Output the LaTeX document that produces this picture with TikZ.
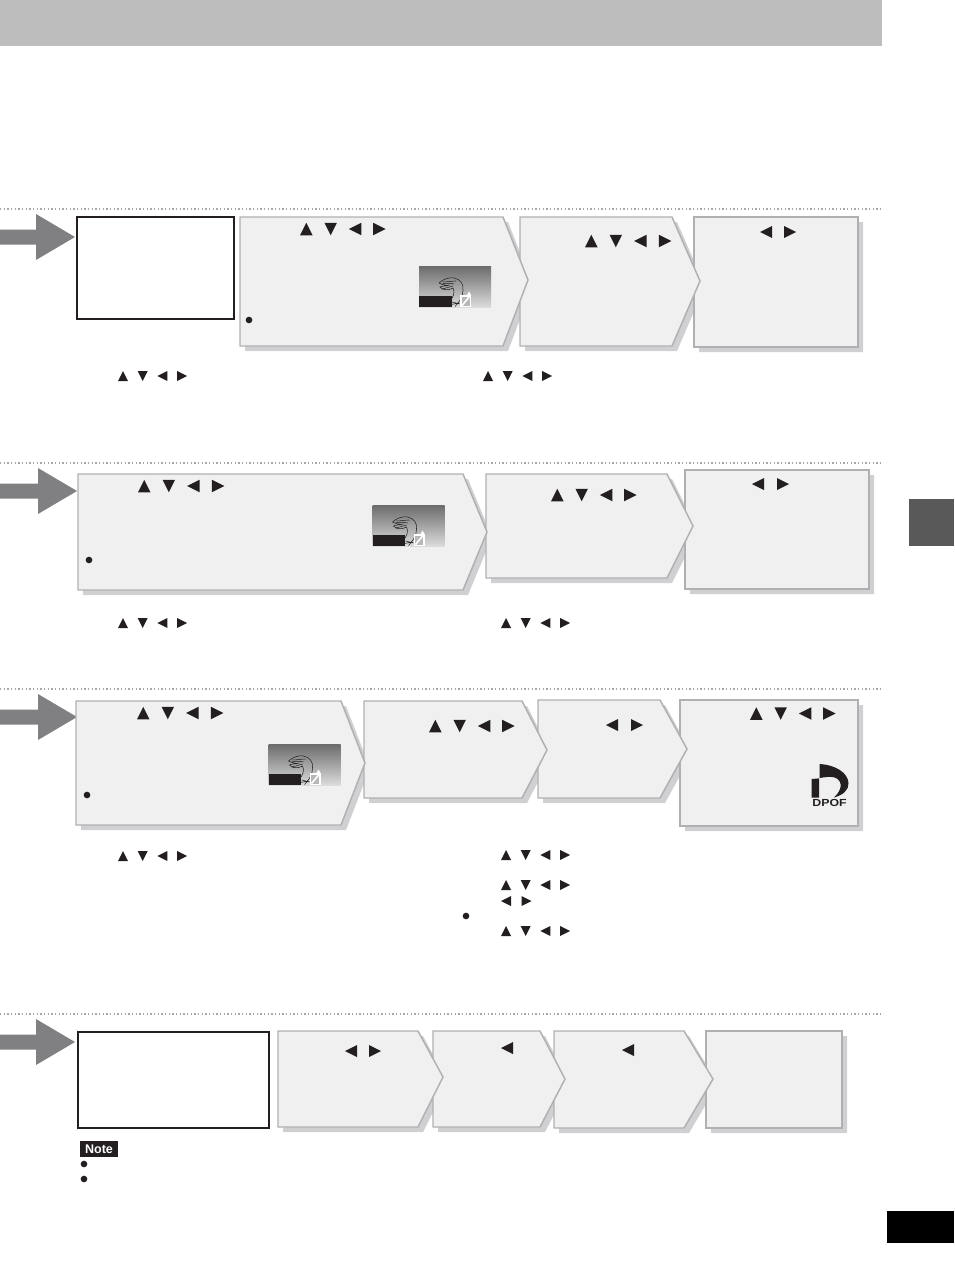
\documentclass[tikz,border=0pt]{standalone}
\usepackage{graphicx}
\usepackage{fontspec}
\setmainfont{Liberation Sans}
\definecolor{band}{HTML}{BDBDBD}
\definecolor{tabgray}{HTML}{595959}
\definecolor{arrowgray}{HTML}{808083}
\definecolor{panelfill}{HTML}{F0F0F0}
\definecolor{panelline}{HTML}{B0B0B3}
\definecolor{shadowgray}{HTML}{D0D0D2}
\definecolor{ink}{HTML}{231F20}
\definecolor{dotgray}{HTML}{A8A8A8}
\tikzset{
  dotrule/.style={draw=dotgray,line width=0.8pt,dash pattern=on 0.9pt off 1.85pt},
  bigarrow/.style={fill=arrowgray},
  panelshape/.style={fill=panelfill,draw=panelline,line width=1.1pt,line join=miter},
  panelshadow/.style={fill=shadowgray},
  whitebox/.style={fill=white,draw=ink,line width=1.3pt},
  sketch/.style={draw=ink,line width=0.4pt},
}
\newcommand\mkup[3]{\fill[fill=ink] (#1,#2+#3/2) -- (#1+#3,#2+#3/2) -- (#1+#3/2,#2-#3/2) -- cycle;}
\newcommand\mkdn[3]{\fill[fill=ink] (#1,#2-#3/2) -- (#1+#3,#2-#3/2) -- (#1+#3/2,#2+#3/2) -- cycle;}
\newcommand\mklf[3]{\fill[fill=ink] (#1+#3,#2-#3/2) -- (#1+#3,#2+#3/2) -- (#1,#2) -- cycle;}
\newcommand\mkrt[3]{\fill[fill=ink] (#1,#2-#3/2) -- (#1,#2+#3/2) -- (#1+#3,#2) -- cycle;}
% x of first, y centre, size, pitch
\newcommand\mkfour[4]{\mkup{#1}{#2}{#3}\mkdn{#1+#4}{#2}{#3}\mklf{#1+2*#4}{#2}{#3}\mkrt{#1+3*#4}{#2}{#3}}
\newcommand\mktwo[4]{\mklf{#1}{#2}{#3}\mkrt{#1+#4}{#2}{#3}}
\newcommand\mkarrow[4]{% head x, tip x, centre y, half shaft
  \fill[bigarrow] (0,#3-#4) -- (#1,#3-#4) -- (#1,#3-23) -- (#2,#3) -- (#1,#3+23) -- (#1,#3+#4) -- (0,#3+#4) -- cycle;}
\newcommand\mkthumb[2]{%
  \begin{scope}[shift={(#1,#2)}]
    \shade[top color=black!58,bottom color=black!14] (0,0) rectangle (72,41);
    % head and neck of the dinosaur
    \draw[sketch] (20,17) .. controls (24,13) and (31,11) .. (35,12) .. controls (41,13) and (45,18) .. (44,24) .. controls (44,30) and (41,35) .. (38,38);
    \draw[sketch] (20,17) .. controls (24,19) and (28,20) .. (31,19) .. controls (27,20) and (23,20) .. (21,21) .. controls (23,24) and (29,25) .. (34,22) .. controls (36,26) and (35,31) .. (30,36);
    \draw[sketch] (24,16) .. controls (28,16) and (33,15) .. (37,15);
    \draw[sketch] (23,18) .. controls (27,17) and (31,17) .. (35,18);
    \draw[sketch] (23,23) .. controls (27,22) and (31,21) .. (34,20);
    \draw[sketch] (33,36) -- (41,38) (32,38.5) -- (40,37) (36,40.5) -- (39,37);
    \fill[ink] (0,30) rectangle (32.5,41);
    % check box
    \fill[white] (41,29) rectangle (52,41);
    \fill[white] (48,29) -- (50,25.5) -- (52,29) -- cycle;
    \fill[black!28] (42.5,30.5) rectangle (50.5,39.5);
    \draw[draw=white,line width=1.2pt] (43,39.5) -- (51,30);
  \end{scope}}
\begin{document}
\begin{tikzpicture}[x=0.75pt,y=-0.75pt]
\useasboundingbox (0,0) rectangle (954,1274);
% page furniture
\fill[band] (0,0) rectangle (882,46);
\fill[tabgray] (909,499) rectangle (954,546);
\fill[black] (887,1211) rectangle (954,1243);
\foreach \ry in {209,463,689,1014}{\draw[dotrule] (0,\ry) -- (881,\ry);}
% big arrows
\mkarrow{36}{75}{237}{7.5}
\mkarrow{38}{77}{491}{7.5}
\mkarrow{38}{77}{717}{7.5}
\mkarrow{36}{75}{1042}{7.5}
% panels: x0/y0/x1/tipx/tipy/y1, right to left in each row
\def\panellist{694/217/858/858/280/347, 520/217/672/700/281/346, 240/217/503/528/280/346,
  685/470/869/869/530/589, 486/474/667/693/526/578, 78/474/463/487/532/590,
  680/700/858/858/760/826, 538/700/660/687/749/798, 364/701/522/547/750/798, 76/701/341/365/763/825,
  706/1031/842/842/1080/1128, 554/1031/684/713/1079/1128, 433/1031/540/565/1079/1127, 278/1031/418/443/1077/1127}
\foreach \xa/\ya/\xb/\xt/\yt/\yb in \panellist{
  \fill[panelshadow] (\xa+5,\ya+5) -- (\xb+5,\ya+5) -- (\xt+5,\yt+5) -- (\xb+5,\yb+5) -- (\xa+5,\yb+5) -- cycle;}
\foreach \xa/\ya/\xb/\xt/\yt/\yb in \panellist{
  \draw[panelshape] (\xa,\ya) -- (\xb,\ya) -- (\xt,\yt) -- (\xb,\yb) -- (\xa,\yb) -- cycle;}
% white boxes
\draw[whitebox] (77,217) rectangle (234,319);
\draw[whitebox] (78,1032) rectangle (269,1128);
% thumbnails
\mkthumb{419}{266}
\mkthumb{372.5}{505}
\mkthumb{268.5}{744}
% arrow marks: panels
\mkfour{300}{229}{12.5}{24.4}
\mkfour{585}{241}{12.5}{24.6}
\mktwo{760}{232}{12}{24}
\mkfour{138}{486}{12.5}{24.6}
\mkfour{551}{495}{12.5}{24.4}
\mktwo{752}{484}{12}{25}
\mkfour{137}{713}{12.5}{24.6}
\mkfour{429}{726}{12.5}{24.4}
\mktwo{606}{725}{12}{25}
\mkfour{750}{713.5}{12.5}{24.4}
\mktwo{345}{1051}{12}{24}
\mklf{501}{1048}{12}
\mklf{622}{1050}{12}
% arrow marks: below the panels
\mkfour{118}{376}{10}{19.7}
\mkfour{483}{376}{10}{19.7}
\mkfour{118}{623}{10}{19.7}
\mkfour{501}{623}{10}{19.7}
\mkfour{118}{856}{10}{19.7}
\mkfour{501}{855}{10}{19.7}
\mkfour{501}{885}{10}{19.7}
\mktwo{501}{901}{10}{20.5}
\mkfour{501}{931}{10}{19.7}
% bullets
\foreach \bx/\by in {249/320, 89/560, 87/795, 466/916, 84/1164, 84/1179}{
  \fill[ink] (\bx,\by) circle[radius=2.5pt];}
% note label
\fill[ink] (80,1141) rectangle (118,1157);
\node[text=white,font=\fontsize{9.4}{10}\selectfont\bfseries,inner sep=0pt] (note) at (99,1149.5) {Note};
% DPOF logo
\fill[ink] (819.5,764) .. controls (836,765) and (848,773) .. (848.5,783) .. controls (849,790) and (843,795) .. (834,797.5) .. controls (842,790) and (843,782) .. (836,778) .. controls (832,776) and (826,777) .. (819.5,778) -- cycle;
\fill[ink] (811.5,779) -- (819,778.4) -- (819,797.5) -- (811.5,797.5) -- cycle;
\node[text=ink,font=\fontsize{7.7}{8}\selectfont\bfseries,inner sep=0pt] (dpof) at (829.5,803) {\scalebox{1.2}[1]{DPOF}};
\end{tikzpicture}
\end{document}
